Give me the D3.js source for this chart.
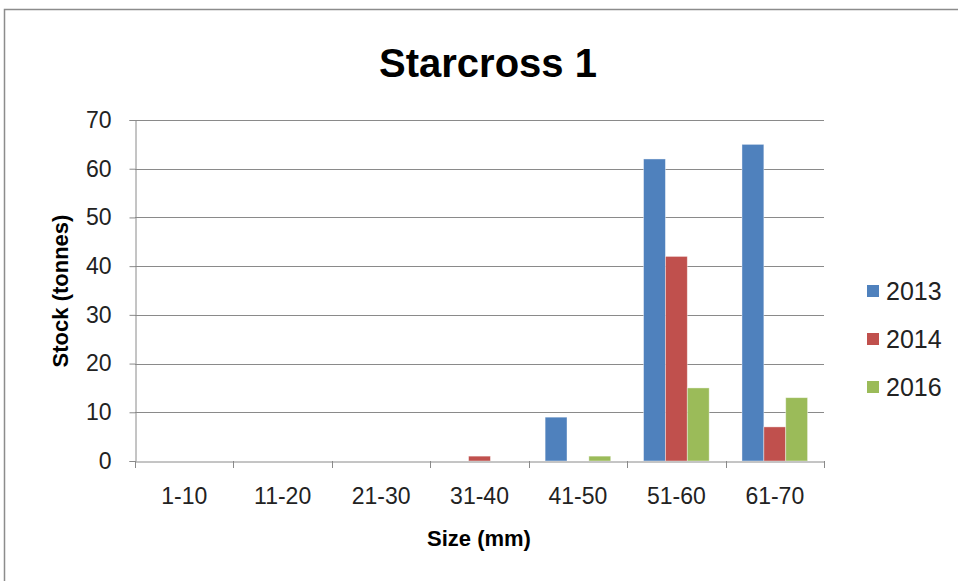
<!DOCTYPE html>
<html><head><meta charset="utf-8">
<script src="https://cdn.jsdelivr.net/npm/d3@7"></script>
<style>body{margin:0;background:#fff}svg{display:block}</style>
</head><body><svg id="c" width="958" height="581"></svg>
<script>
const categories = ["1-10","11-20","21-30","31-40","41-50","51-60","61-70"];
const seriesNames = ["2013","2014","2016"];
const values2013 = [0,0,0,0,9,62,65];
const values2014 = [0,0,0,1,0,42,7];
const values2016 = [0,0,0,0,1,15,13];
const yTicks = [0,10,20,30,40,50,60,70];
const colors = ["#4F81BD","#C0504D","#9BBB59"];
const series = [values2013, values2014, values2016];

const svg = d3.select("#c");
const font = "'Liberation Sans', Arial, sans-serif";
const m = {left:135, right:824, top:120, bottom:461};

svg.append("rect").attr("x",4.5).attr("y",9.5).attr("width",1200).attr("height",1200)
  .attr("fill","none").attr("stroke","#8c8c8c").attr("stroke-width",1.5);

const x0 = d3.scaleBand().domain(categories).range([m.left,m.right]).paddingInner(0).paddingOuter(0);
// gap width 150%: 3 bars + 1.5 bar widths of gap per band
const bw = x0.bandwidth()/4.5;
const y = d3.scaleLinear().domain([0,70]).range([m.bottom,m.top]);

// gridlines
svg.append("g").selectAll("line").data(yTicks.filter(d=>d>0)).join("line")
  .attr("x1",m.left).attr("x2",m.right)
  .attr("y1",d=>Math.round(y(d))+0.5).attr("y2",d=>Math.round(y(d))+0.5)
  .attr("stroke","#8a8a8a").attr("stroke-width",1);

// y axis
const yAxis = d3.axisLeft(y).tickValues(yTicks).tickSize(6).tickPadding(18);
const gy = svg.append("g").attr("transform",`translate(${m.left+0.5},0)`).call(yAxis);
gy.select(".domain").attr("stroke","#8a8a8a");
gy.selectAll(".tick line").attr("stroke","#8a8a8a");
gy.selectAll("text").attr("font-family",font).attr("font-size",23).attr("fill","#222");

// bars
series.forEach((vals,si)=>{
  svg.append("g").selectAll("rect").data(vals).join("rect")
    .attr("x",(d,i)=>x0(categories[i]) + bw*0.75 + si*bw)
    .attr("width",bw)
    .attr("y",d=>y(d))
    .attr("height",d=>m.bottom-y(d))
    .attr("fill",colors[si])
    .attr("stroke", d=> d>0 ? "rgba(255,255,255,0.5)" : "none").attr("stroke-width",0.8);
});

// x axis
const xAxis = d3.axisBottom(x0).tickSize(0).tickPadding(26);
const gx = svg.append("g").attr("transform",`translate(0,${m.bottom+0.5})`).call(xAxis);
gx.select(".domain").attr("stroke","#8a8a8a");
gx.selectAll("text").attr("font-family",font).attr("font-size",23).attr("fill","#222");
svg.append("g").selectAll("line").data(d3.range(categories.length+1)).join("line")
  .attr("x1",i=>Math.round(m.left + i*x0.bandwidth())+0.5).attr("x2",i=>Math.round(m.left + i*x0.bandwidth())+0.5)
  .attr("y1",m.bottom).attr("y2",m.bottom+7).attr("stroke","#8a8a8a");

// title
svg.append("text").attr("x",488).attr("y",77).attr("text-anchor","middle")
  .attr("font-family",font).attr("font-weight","bold").attr("font-size",40).attr("fill","#000")
  .text("Starcross 1");
// axis titles
svg.append("text").attr("x",479).attr("y",546).attr("text-anchor","middle")
  .attr("font-family",font).attr("font-weight","bold").attr("font-size",22).attr("fill","#000")
  .text("Size (mm)");
svg.append("text").attr("transform","translate(68,291) rotate(-90)").attr("text-anchor","middle")
  .attr("font-family",font).attr("font-weight","bold").attr("font-size",22).attr("fill","#000")
  .text("Stock (tonnes)");

// legend
const lg = svg.append("g").selectAll("g").data(seriesNames).join("g")
  .attr("transform",(d,i)=>`translate(867,${285 + i*48})`);
lg.append("rect").attr("width",12).attr("height",12).attr("fill",(d,i)=>colors[i]);
lg.append("text").attr("x",19).attr("y",6).attr("dy","0.36em")
  .attr("font-family",font).attr("font-size",25).attr("fill","#222").text(d=>d);
</script></body></html>
